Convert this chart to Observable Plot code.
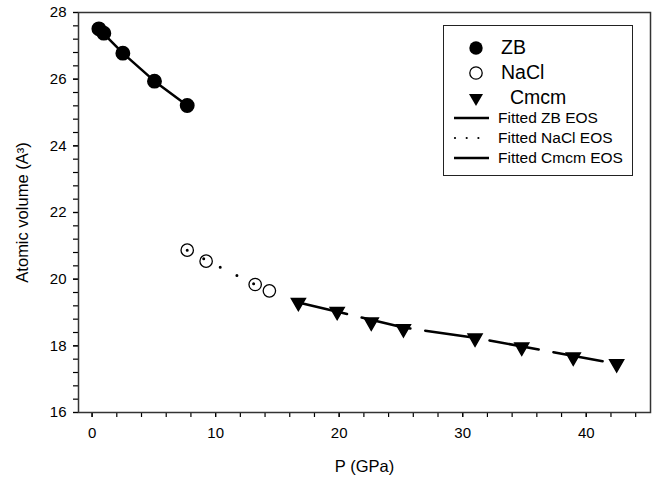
<!DOCTYPE html>
<html><head><meta charset="utf-8">
<script src="https://cdn.jsdelivr.net/npm/d3@7"></script>
<script src="https://cdn.jsdelivr.net/npm/@observablehq/plot@0.6"></script>
<style>
body{margin:0;background:#fff;}
#wrap{position:relative;width:656px;height:477px;font-family:"Liberation Sans",Arial,sans-serif;color:#000;}
.legend{position:absolute;left:443px;top:25px;width:190px;height:151px;border:1px solid #222;box-sizing:border-box;background:#fff;}
.legend .row{position:absolute;left:0;height:20px;display:flex;align-items:center;white-space:nowrap;}
.legend svg{position:absolute;overflow:visible;}
</style></head><body><div id="wrap"></div>
<script>
// Zinc-blende (ZB) phase
const zbP = [0.55, 0.95, 2.49, 5.05, 7.70];
const zbV = [27.51, 27.38, 26.78, 25.94, 25.21];
// NaCl phase
const naclP = [7.70, 9.23, 13.20, 14.35];
const naclV = [20.87, 20.54, 19.84, 19.65];
// Cmcm phase
const cmcmP = [16.7, 19.84, 22.6, 25.2, 31.0, 34.78, 38.95, 42.46];
const cmcmV = [19.30, 19.03, 18.71, 18.51, 18.23, 17.96, 17.66, 17.46];
// Fitted EOS curves
const zbFitP = [0.55, 2.49, 5.05, 7.70];
const zbFitV = [27.51, 26.78, 25.94, 25.21];
const naclFitP = [7.70, 10.45, 13.20];
const naclFitV = [20.87, 20.34, 19.84];
const cmcmFitP = [16.7, 25.2, 31.0, 42.46];
const cmcmFitV = [19.30, 18.55, 18.24, 17.46];
// Axes
const xTicks = [0, 10, 20, 30, 40];
const xMinor = d3.range(0, 46, 2);
const yTicks = [16, 18, 20, 22, 24, 26, 28];
const yMinor = d3.range(0, 31).map(i => 16 + i * 0.4);
const xLabel = "P (GPa)";
const yLabel = "Atomic volume (A³)";
const legendLabels = ["ZB", "NaCl", "Cmcm", "Fitted ZB EOS", "Fitted NaCl EOS", "Fitted Cmcm EOS"];

const pts = (P, V) => P.map((p, i) => ({p, v: V[i]}));

const chart = Plot.plot({
  width: 656, height: 477,
  marginLeft: 78, marginRight: 6, marginTop: 12, marginBottom: 65,
  style: {fontFamily: "'Liberation Sans', Arial, sans-serif", background: "#fff", color: "#000"},
  x: {domain: [-1.1, 45.2]},
  y: {domain: [16, 28]},
  marks: [
    Plot.axisX({ticks: xMinor, tickSize: 5, text: null, label: null, strokeWidth: 1.2}),
    Plot.axisX({ticks: xTicks, tickSize: 5, tickPadding: 10, fontSize: 15, label: null, strokeWidth: 1.2}),
    Plot.axisY({ticks: yMinor, tickSize: 5, text: null, label: null, strokeWidth: 1.2}),
    Plot.axisY({ticks: yTicks, tickSize: 5, tickPadding: 7, fontSize: 15, label: null, strokeWidth: 1.2}),
    Plot.frame({stroke: "#333", strokeWidth: 1.5}),
    Plot.text([xLabel], {frameAnchor: "bottom", dy: 59, fontSize: 16.5, lineAnchor: "bottom", textAnchor: "middle"}),
    Plot.text([yLabel], {frameAnchor: "left", dx: -56, rotate: -90, fontSize: 16.5, textAnchor: "middle"}),
    Plot.line(pts(zbFitP, zbFitV), {x: "p", y: "v", stroke: "#000", strokeWidth: 2.5}),
    Plot.line(pts(naclFitP, naclFitV), {x: "p", y: "v", stroke: "#000", strokeWidth: 3, strokeDasharray: "0,18.6", strokeLinecap: "round"}),
    Plot.line(pts(cmcmFitP, cmcmFitV), {x: "p", y: "v", stroke: "#000", strokeWidth: 2.5, strokeDasharray: "50,15"}),
    Plot.dot(pts(zbP, zbV), {x: "p", y: "v", r: 6.7, fill: "#000", stroke: "#000"}),
    Plot.dot(pts(naclP, naclV), {x: "p", y: "v", r: 6.2, fill: "none", stroke: "#000", strokeWidth: 1.3}),
    Plot.dot(pts(cmcmP, cmcmV), {x: "p", y: "v", r: 5.2, symbol: "triangle", rotate: 180, fill: "#000", stroke: "#000"})
  ]
});
const wrap = document.getElementById("wrap");
wrap.appendChild(chart);

// legend overlay
const lg = document.createElement("div");
lg.className = "legend";
const rows = [
  {y: 21.7, kind: "dotfill", fs: 19.5, tx: 57},
  {y: 46.7, kind: "dotopen", fs: 19.5, tx: 57},
  {y: 71.7, kind: "tri", fs: 19.5, tx: 66},
  {y: 91.7, kind: "solid", fs: 15.5, tx: 54},
  {y: 111.7, kind: "dots", fs: 15.5, tx: 54},
  {y: 131.7, kind: "solid", fs: 15.5, tx: 54}
];
rows.forEach((r, i) => {
  const s = d3.create("svg").attr("width", 1).attr("height", 1).style("left", "0px").style("top", r.y + "px");
  if (r.kind === "dotfill") s.append("circle").attr("cx", 32).attr("cy", 0).attr("r", 6.7).attr("fill", "#000");
  if (r.kind === "dotopen") s.append("circle").attr("cx", 32).attr("cy", 0).attr("r", 6.2).attr("fill", "none").attr("stroke", "#000").attr("stroke-width", 1.3);
  if (r.kind === "tri") s.append("path").attr("transform", "translate(32,0) rotate(180)").attr("d", d3.symbol(d3.symbolTriangle, 85)()).attr("fill", "#000");
  if (r.kind === "solid") s.append("line").attr("x1", 10).attr("x2", 45).attr("y1", 0).attr("y2", 0).attr("stroke", "#000").attr("stroke-width", 2.5);
  if (r.kind === "dots") s.append("line").attr("x1", 11).attr("x2", 46).attr("y1", 0).attr("y2", 0).attr("stroke", "#000").attr("stroke-width", 2.2).attr("stroke-dasharray", "0,11.7").attr("stroke-linecap", "round");
  lg.appendChild(s.node());
  const t = document.createElement("div");
  t.className = "row";
  t.style.top = (r.y - 10) + "px";
  t.style.left = r.tx + "px";
  t.style.fontSize = r.fs + "px";
  t.textContent = legendLabels[i];
  lg.appendChild(t);
});
wrap.appendChild(lg);
</script></body></html>
